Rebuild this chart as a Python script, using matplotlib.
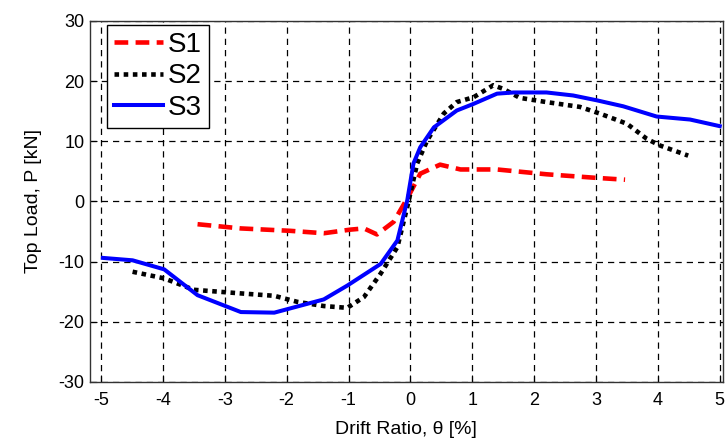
import matplotlib
matplotlib.use("Agg")
import matplotlib.pyplot as plt

plt.rcParams['font.family'] = ['Liberation Sans', 'DejaVu Sans']

# S1 - red dashed
s1_x = [-3.44, -2.74, -1.94, -1.40, -0.97, -0.75, -0.54, -0.27, -0.05, 0.16, 0.48, 0.81, 1.40, 2.20, 3.01, 3.47]
s1_y = [-3.8, -4.5, -4.9, -5.3, -4.7, -4.5, -5.5, -3.4, 0.5, 4.6, 6.1, 5.3, 5.3, 4.5, 3.9, 3.6]

# S2 - black dotted
s2_x = [-4.49, -3.98, -3.50, -2.74, -2.20, -1.83, -1.40, -1.02, -0.75, -0.48, -0.21, -0.05,
        0.11, 0.27, 0.54, 0.75, 1.02, 1.34, 1.50, 1.77, 2.20, 2.74, 3.06, 3.50, 3.82, 4.03, 4.49]
s2_y = [-11.7, -12.8, -14.7, -15.3, -15.7, -16.7, -17.4, -17.7, -15.9, -12.0, -7.6, -0.9,
        6.3, 10.1, 14.6, 16.5, 17.3, 19.3, 18.7, 17.2, 16.5, 15.7, 14.6, 12.9, 10.4, 9.3, 7.6]

# S3 - blue solid
s3_x = [-4.97, -4.49, -3.98, -3.44, -2.74, -2.20, -1.40, -1.02, -0.48, -0.21, -0.05,
        0.05, 0.16, 0.38, 0.75, 1.02, 1.40, 1.67, 2.20, 2.63, 3.01, 3.44, 3.98, 4.52, 5.00]
s3_y = [-9.4, -9.8, -11.3, -15.6, -18.4, -18.5, -16.3, -14.0, -10.4, -6.5, 0.2,
        6.3, 9.0, 12.3, 15.1, 16.2, 17.9, 18.1, 18.1, 17.6, 16.8, 15.8, 14.1, 13.6, 12.5]

x_ticks = [-5, -4, -3, -2, -1, 0, 1, 2, 3, 4, 5]
y_ticks = [-30, -20, -10, 0, 10, 20, 30]

fig = plt.figure(figsize=(7.25, 4.44), dpi=100)
ax = fig.add_axes([0.124, 0.14, 0.873, 0.813])

ax.plot(s1_x, s1_y, color='red', linestyle=(0, (3, 1.6)), linewidth=3.3, label='S1')
ax.plot(s2_x, s2_y, color='black', linestyle=(0, (1, 1)), linewidth=3.3, label='S2')
ax.plot(s3_x, s3_y, color='blue', linestyle='-', linewidth=2.9, label='S3')

ax.set_xlim(-5.18, 5.05)
ax.set_ylim(-30, 30)
ax.set_xticks(x_ticks)
ax.set_yticks(y_ticks)
ax.set_xticklabels([str(t) for t in x_ticks])
ax.set_yticklabels([str(t) for t in y_ticks])
ax.tick_params(direction='in', labelsize=13, length=5)
ax.tick_params(axis='x', pad=7)
ax.tick_params(axis='y', pad=4)

ax.grid(True, color='black', linestyle=(0, (5, 4)), linewidth=0.9)
for sp in ax.spines.values():
    sp.set_color('#333333')
    sp.set_linewidth(1)

ax.set_xlabel('Drift Ratio, θ [%]', fontsize=14, labelpad=9)
ax.set_ylabel('Top Load, P [kN]', fontsize=14, labelpad=12)

leg = ax.legend(loc='upper left', fontsize=20, frameon=True, fancybox=False,
                handlelength=1.75, handletextpad=0.2, borderpad=0.25, labelspacing=0.2,
                borderaxespad=0, bbox_to_anchor=(0.027, 0.989))
leg.get_frame().set_edgecolor('black')
leg.get_frame().set_linewidth(1)
leg.get_frame().set_alpha(1)

fig.savefig('out.png', dpi=100)
